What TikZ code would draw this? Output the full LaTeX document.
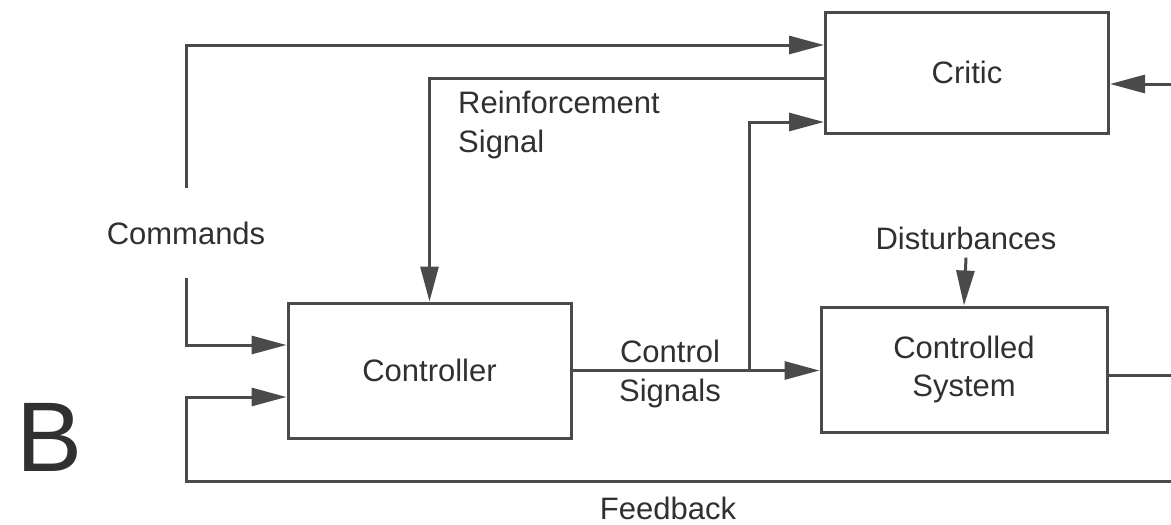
\documentclass[tikz,border=0pt]{standalone}
\usepackage{fontspec}
\setmainfont{Liberation Sans}
\usetikzlibrary{arrows.meta,calc}
\definecolor{ink}{HTML}{4A4A4A}
\definecolor{txt}{HTML}{303030}
\tikzset{
  blk/.style={draw=ink,line width=3pt,rectangle,inner sep=0pt,text=txt,
    font=\fontsize{31}{38}\selectfont,align=center},
  lbl/.style={text=txt,font=\fontsize{31}{39}\selectfont,inner sep=0pt},
  wire/.style={draw=ink,line width=3pt},
  arr/.style={wire,-{Triangle[length=35pt,width=18pt]}}
}
\begin{document}
\begin{tikzpicture}[x=1pt,y=-1pt]
\useasboundingbox (0,0) rectangle (1171,525);
% blocks
\node[blk,minimum width=283pt,minimum height=121pt] (critic) at (967,72.5) {Critic};
\node[blk,minimum width=283pt,minimum height=135pt] (ctrl) at (429.5,370.5) {Controller};
\node[blk,minimum width=286pt,minimum height=125pt] (plant) at (964,369.5) {Controlled\\System};
% labels
\node[lbl,minimum height=90pt] (cmd) at (186,233) {Commands};
\node[lbl] (dist) at (966,238) {Disturbances};
\node[lbl,align=left,anchor=west] (reinf) at (458,125) {Reinforcement\\Signal};
\node[lbl,align=center] (csig) at (670,374) {Control\\Signals};
\node[lbl] (fb) at (668,508) {Feedback};
\node[text=txt,font=\fontsize{99}{99}\selectfont,inner sep=0pt] (B) at (50,437) {B};
% free ends at the right edge
\coordinate (outR) at (1171,375);
\coordinate (fbR) at (1171,481);
\coordinate (fbL) at (186,481);
\coordinate (critR) at (1171,84);
\coordinate (br) at (749,372);
% commands
\draw[arr] (cmd.north) |- ($(critic.west)+(0,-27.5)$);
\draw[arr] (cmd.south) |- ($(ctrl.west)+(0,-25.5)$);
% reinforcement signal
\draw[arr] ($(critic.west)+(0,5.5)$) -| (ctrl.north);
% control signals
\draw[arr] (ctrl.east) -- (ctrl.east -| plant.west);
\draw[arr] (br) |- ($(critic.west)+(0,49.5)$);
% disturbances
\draw[arr] ([yshift=-8pt]dist.south) -- (plant.north);
% output and feedback
\draw[wire] (plant.east |- outR) -- (outR);
\draw[arr] (fbR) -- (fbL) |- ($(ctrl.west)+(0,26.5)$);
\draw[arr] (critR) -- (critR -| critic.east);
\end{tikzpicture}
\end{document}
